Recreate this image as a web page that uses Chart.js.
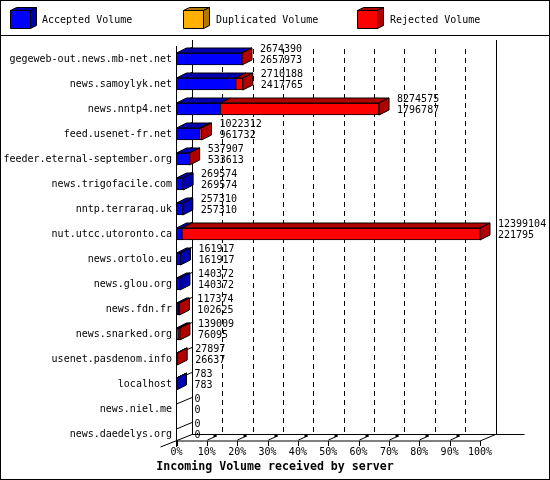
<!DOCTYPE html>
<html>
<head>
<meta charset="utf-8">
<script src="https://cdn.jsdelivr.net/npm/chart.js@4.4.1/dist/chart.umd.min.js"></script>
<style>
  body { margin: 0; background: #fff; }
  #wrap { width: 550px; height: 480px; }
</style>
</head>
<body>
<div id="wrap"><canvas id="chartMain" width="550" height="480"></canvas></div>
<script>
const hosts = [
    'gegeweb-out.news.mb-net.net', 'news.samoylyk.net', 'news.nntp4.net', 'feed.usenet-fr.net',
    'feeder.eternal-september.org', 'news.trigofacile.com', 'nntp.terraraq.uk', 'nut.utcc.utoronto.ca',
    'news.ortolo.eu', 'news.glou.org', 'news.fdn.fr', 'news.snarked.org',
    'usenet.pasdenom.info', 'localhost', 'news.niel.me', 'news.daedelys.org'
];
const totals = [2674390, 2710188, 8274575, 1022312, 537907, 269574, 257310, 12399104,
    161917, 140372, 117374, 139009, 27897, 783, 0, 0];
const accepted = [2657973, 2417765, 1796787, 961732, 533613, 269574, 257310, 221795,
    161917, 140372, 102625, 76095, 26637, 783, 0, 0];
const duplicated = [0, 0, 0, 0, 0, 0, 0, 0, 0, 0, 0, 0, 0, 0, 0, 0];
const rejected = [16417, 292423, 6477788, 60580, 4294, 0, 0, 12177309,
    0, 0, 14749, 62914, 1260, 0, 0, 0];
const tickLabels = ['0%', '10%', '20%', '30%', '40%', '50%', '60%', '70%', '80%', '90%', '100%'];

const maxTotal = Math.max(...totals);
const MONO = '"DejaVu Sans Mono", "Liberation Mono", monospace';

// bar depth and wall depth (px)
const DX = 10, DY = 5;
const WX = 15.5, WY = 6.5;

const series = [
    { label: 'Accepted Volume', data: accepted, front: '#0000ff', dark: '#0000b0' },
    { label: 'Duplicated Volume', data: duplicated, front: '#ffb000', dark: '#b07800' },
    { label: 'Rejected Volume', data: rejected, front: '#ff0000', dark: '#b00000' }
];

function face(ctx, pts, fill) {
    ctx.beginPath();
    pts.forEach(([x, y], k) => k ? ctx.lineTo(x, y) : ctx.moveTo(x, y));
    ctx.closePath();
    ctx.fillStyle = fill;
    ctx.fill();
    ctx.strokeStyle = '#000';
    ctx.lineWidth = 1;
    ctx.stroke();
}

function line(ctx, x1, y1, x2, y2) {
    ctx.beginPath();
    ctx.moveTo(x1, y1);
    ctx.lineTo(x2, y2);
    ctx.stroke();
}

const threeD = {
    id: 'threeD',
    beforeDatasetsDraw(chart) {
        const { ctx, chartArea: a, scales: { x, y } } = chart;
        const floor = a.bottom - 5.5;
        const backLeft = a.left + WX, backFloor = floor - WY, top = 40;
        ctx.save();
        ctx.fillStyle = '#fff';
        ctx.strokeStyle = '#000';
        ctx.lineWidth = 1;

        // frame + legend separator
        ctx.strokeRect(0.5, 0.5, 549, 479);
        line(ctx, 0, 35.5, 550, 35.5);

        // legend
        const boxX = [10, 183, 357], textX = [42, 216, 390];
        series.forEach((s, k) => {
            const bx = boxX[k] + 0.5, by = 10.5, w = 20, h = 18;
            face(ctx, [[bx, by], [bx + w, by], [bx + w + 6, by - 3], [bx + 6, by - 3]], s.dark);
            face(ctx, [[bx + w, by], [bx + w + 6, by - 3], [bx + w + 6, by + h - 3], [bx + w, by + h]], s.dark);
            face(ctx, [[bx, by], [bx + w, by], [bx + w, by + h], [bx, by + h]], s.front);
            ctx.fillStyle = '#000';
            ctx.font = '10px ' + MONO;
            ctx.textBaseline = 'middle';
            ctx.textAlign = 'left';
            ctx.fillText(s.label, textX[k], 20);
        });

        // back walls
        ctx.strokeStyle = '#000';
        line(ctx, Math.round(backLeft) + 0.5, top, Math.round(backLeft) + 0.5, backFloor);
        const backRight = Math.round(a.right + WX) + 0.5;
        line(ctx, backRight, top, backRight, backFloor);
        line(ctx, backLeft, backFloor, backRight + 28, backFloor);

        // dashed grid on the back wall
        ctx.setLineDash([5, 4]);
        x.ticks.forEach((t, i) => {
            if (i === 0 || i === x.ticks.length - 1) return;
            const px = Math.round(x.getPixelForValue(t.value) + WX) + 0.5;
            line(ctx, px, top + 9, px, backFloor);
        });
        ctx.setLineDash([]);

        // category floor lines on the left wall
        hosts.forEach((h, i) => {
            const c = y.getPixelForValue(i);
            line(ctx, a.left, c - 5, backLeft, c - 5 - WY);
        });
        ctx.restore();
    },
    afterDatasetsDraw(chart) {
        const { ctx, chartArea: a, scales: { x, y } } = chart;
        const floor = a.bottom - 5.5;
        ctx.save();
        ctx.strokeStyle = '#000';
        ctx.lineWidth = 1;

        // front axes
        line(ctx, a.left, 46, a.left, floor + 6);
        line(ctx, a.left, floor, a.right, floor);
        line(ctx, a.right, floor, a.right + WX, floor - WY);
        line(ctx, a.left - 16, floor + 6, a.left + WX, floor - WY);
        x.ticks.forEach((t, i) => {
            const px = Math.round(x.getPixelForValue(t.value)) + 0.5;
            line(ctx, px, floor, px, floor + 5);
            if (i > 0 && i < x.ticks.length - 1) {
                line(ctx, px, floor - 1, px + 9, floor - 5);
                ctx.fillStyle = '#000';
                ctx.fillRect(px + 6, floor - 6, 3, 2);
            }
        });

        // 3d tops and sides of the bars
        hosts.forEach((h, i) => {
            const segs = [];
            chart.data.datasets.forEach((ds, d) => {
                if (ds.data[i]) segs.push({ el: chart.getDatasetMeta(d).data[i], s: series[d] });
            });
            segs.forEach((g, k) => {
                const l = Math.min(g.el.x, g.el.base), r = Math.max(g.el.x, g.el.base);
                const t = g.el.y - g.el.height / 2, b = g.el.y + g.el.height / 2;
                face(ctx, [[l, t], [r, t], [r + DX, t - DY], [l + DX, t - DY]], g.s.dark);
                if (k === segs.length - 1) {
                    face(ctx, [[r, t], [r + DX, t - DY], [r + DX, b - DY], [r, b]], g.s.dark);
                }
            });

            // value labels: total, then accepted
            const c = y.getPixelForValue(i);
            const tx = x.getPixelForValue(totals[i]) + DX + 8;
            ctx.fillStyle = '#000';
            ctx.font = '10px ' + MONO;
            ctx.textAlign = 'left';
            ctx.textBaseline = 'middle';
            ctx.fillText(String(totals[i]), tx, c - 10);
            ctx.fillText(String(accepted[i]), tx, c + 1.5);
        });

        ctx.font = 'bold 11.6px ' + MONO;
        ctx.textAlign = 'center';
        ctx.fillText('Incoming Volume received by server', 275, 467);
        ctx.restore();
    }
};

new Chart(document.getElementById('chartMain'), {
    type: 'bar',
    data: {
        labels: hosts,
        datasets: series.map(s => ({
            label: s.label,
            data: s.data.map(v => v || null),
            backgroundColor: s.front,
            borderColor: '#000',
            borderWidth: 1,
            borderSkipped: false,
            barThickness: 12
        }))
    },
    options: {
        indexAxis: 'y',
        responsive: false,
        animation: false,
        layout: { padding: { top: 46.5, right: 70, bottom: 0, left: 0 } },
        plugins: {
            legend: { display: false },
            tooltip: { enabled: false },
            title: { display: false }
        },
        scales: {
            x: {
                stacked: true, min: 0, max: maxTotal,
                afterBuildTicks: scale => {
                    scale.ticks = tickLabels.map((t, i) => ({ value: maxTotal * i / 10 }));
                },
                afterFit: scale => { scale.height = 33.5; },
                ticks: {
                    callback: (v, i) => tickLabels[i],
                    color: '#000', padding: 0, maxRotation: 0, autoSkip: false,
                    font: { family: MONO, size: 10 }
                },
                grid: { display: false, drawTicks: false },
                border: { display: false }
            },
            y: {
                stacked: true,
                afterFit: scale => { scale.width = 176.5; },
                ticks: {
                    color: '#000', padding: 4.5, autoSkip: false,
                    font: { family: MONO, size: 10 }
                },
                grid: { display: false, drawTicks: false },
                border: { display: false }
            }
        }
    },
    plugins: [threeD]
});
</script>
</body>
</html>
